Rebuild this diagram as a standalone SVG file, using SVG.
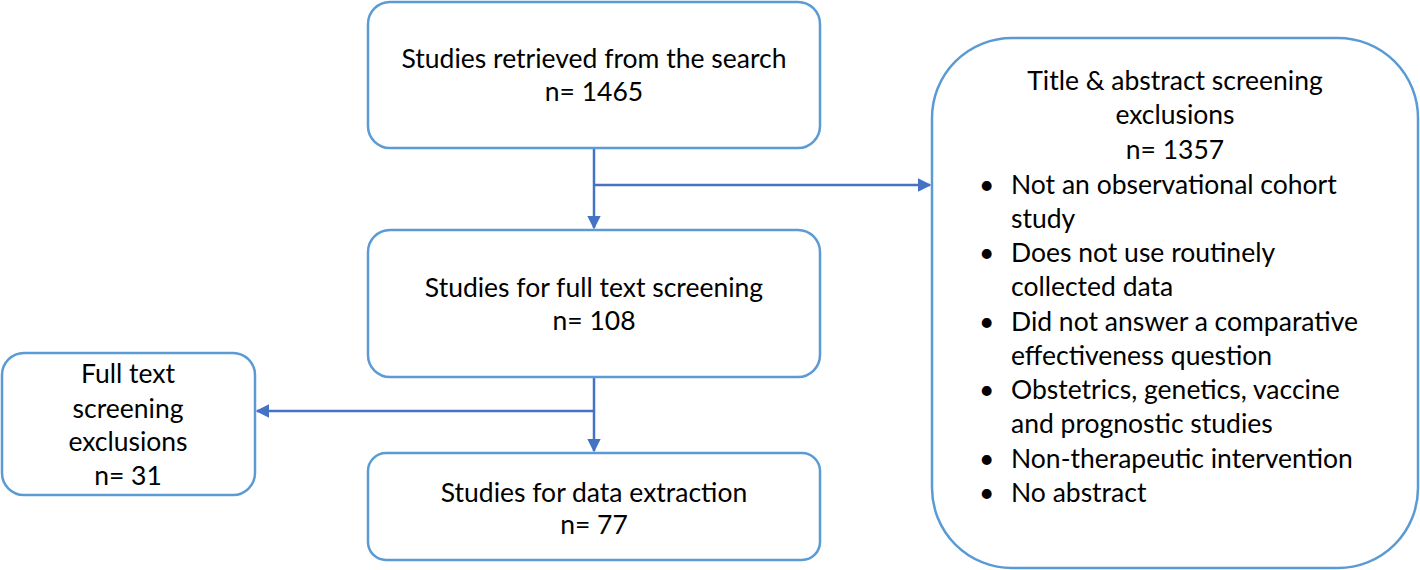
<svg xmlns="http://www.w3.org/2000/svg" width="1420" height="570" viewBox="0 0 1420 570">
<defs>
<marker id="arr" viewBox="0 0 10 10" refX="9" refY="5" markerWidth="5.5" markerHeight="5.5" orient="auto" markerUnits="strokeWidth">
<path d="M0,0 L10,5 L0,10 z" fill="#4472C4"/>
</marker>
<style>
.box{fill:#fff;stroke:#5B9BD5;stroke-width:2.5}
.t{font-family:Lato,"Open Sans",sans-serif;font-size:26.5px;fill:#000}
.c{text-anchor:middle}
.ln{stroke:#4472C4;stroke-width:2.5;fill:none}
</style>
</defs>
<rect width="1420" height="570" fill="#fff"/>
<g id="connectors">
<path class="ln" d="M594,148 V228" marker-end="url(#arr)"/>
<path class="ln" d="M594,185 H930" marker-end="url(#arr)"/>
<path class="ln" d="M594,377 V451" marker-end="url(#arr)"/>
<path class="ln" d="M594,411 H257" marker-end="url(#arr)"/>
</g>
<g id="n1">
<rect class="box" x="368" y="2" width="452" height="146" rx="22"/>
<text class="t c" x="594" y="68">Studies retrieved from the search</text>
<text class="t c" x="594" y="101">n= 1465</text>
</g>
<g id="n2">
<rect class="box" x="368" y="230" width="452" height="147" rx="22"/>
<text class="t c" x="594" y="297">Studies for full text screening</text>
<text class="t c" x="594" y="330">n= 108</text>
</g>
<g id="n3">
<rect class="box" x="368" y="453" width="452" height="107" rx="18"/>
<text class="t c" x="594" y="502">Studies for data extraction</text>
<text class="t c" x="594" y="534">n= 77</text>
</g>
<g id="n4">
<rect class="box" x="2" y="353" width="253" height="142" rx="22"/>
<text class="t c" x="128" y="383">Full text</text>
<text class="t c" x="128" y="418">screening</text>
<text class="t c" x="128" y="451">exclusions</text>
<text class="t c" x="128" y="485">n= 31</text>
</g>
<g id="n5">
<rect class="box" x="932" y="38" width="486" height="530" rx="80"/>
<text class="t c" x="1175" y="90">Title &amp; abstract screening</text>
<text class="t c" x="1175" y="124">exclusions</text>
<text class="t c" x="1175" y="159">n= 1357</text>
<g class="t">
<text x="979" y="194">•</text><text x="1011" y="194">Not an observational cohort</text>
<text x="1011" y="228">study</text>
<text x="979" y="262">•</text><text x="1011" y="262">Does not use routinely</text>
<text x="1011" y="296">collected data</text>
<text x="979" y="331">•</text><text x="1011" y="331">Did not answer a comparative</text>
<text x="1011" y="365">effectiveness question</text>
<text x="979" y="399">•</text><text x="1011" y="399">Obstetrics, genetics, vaccine</text>
<text x="1011" y="433">and prognostic studies</text>
<text x="979" y="468">•</text><text x="1011" y="468">Non-therapeutic intervention</text>
<text x="979" y="502">•</text><text x="1011" y="502">No abstract</text>
</g>
</g>
</svg>
